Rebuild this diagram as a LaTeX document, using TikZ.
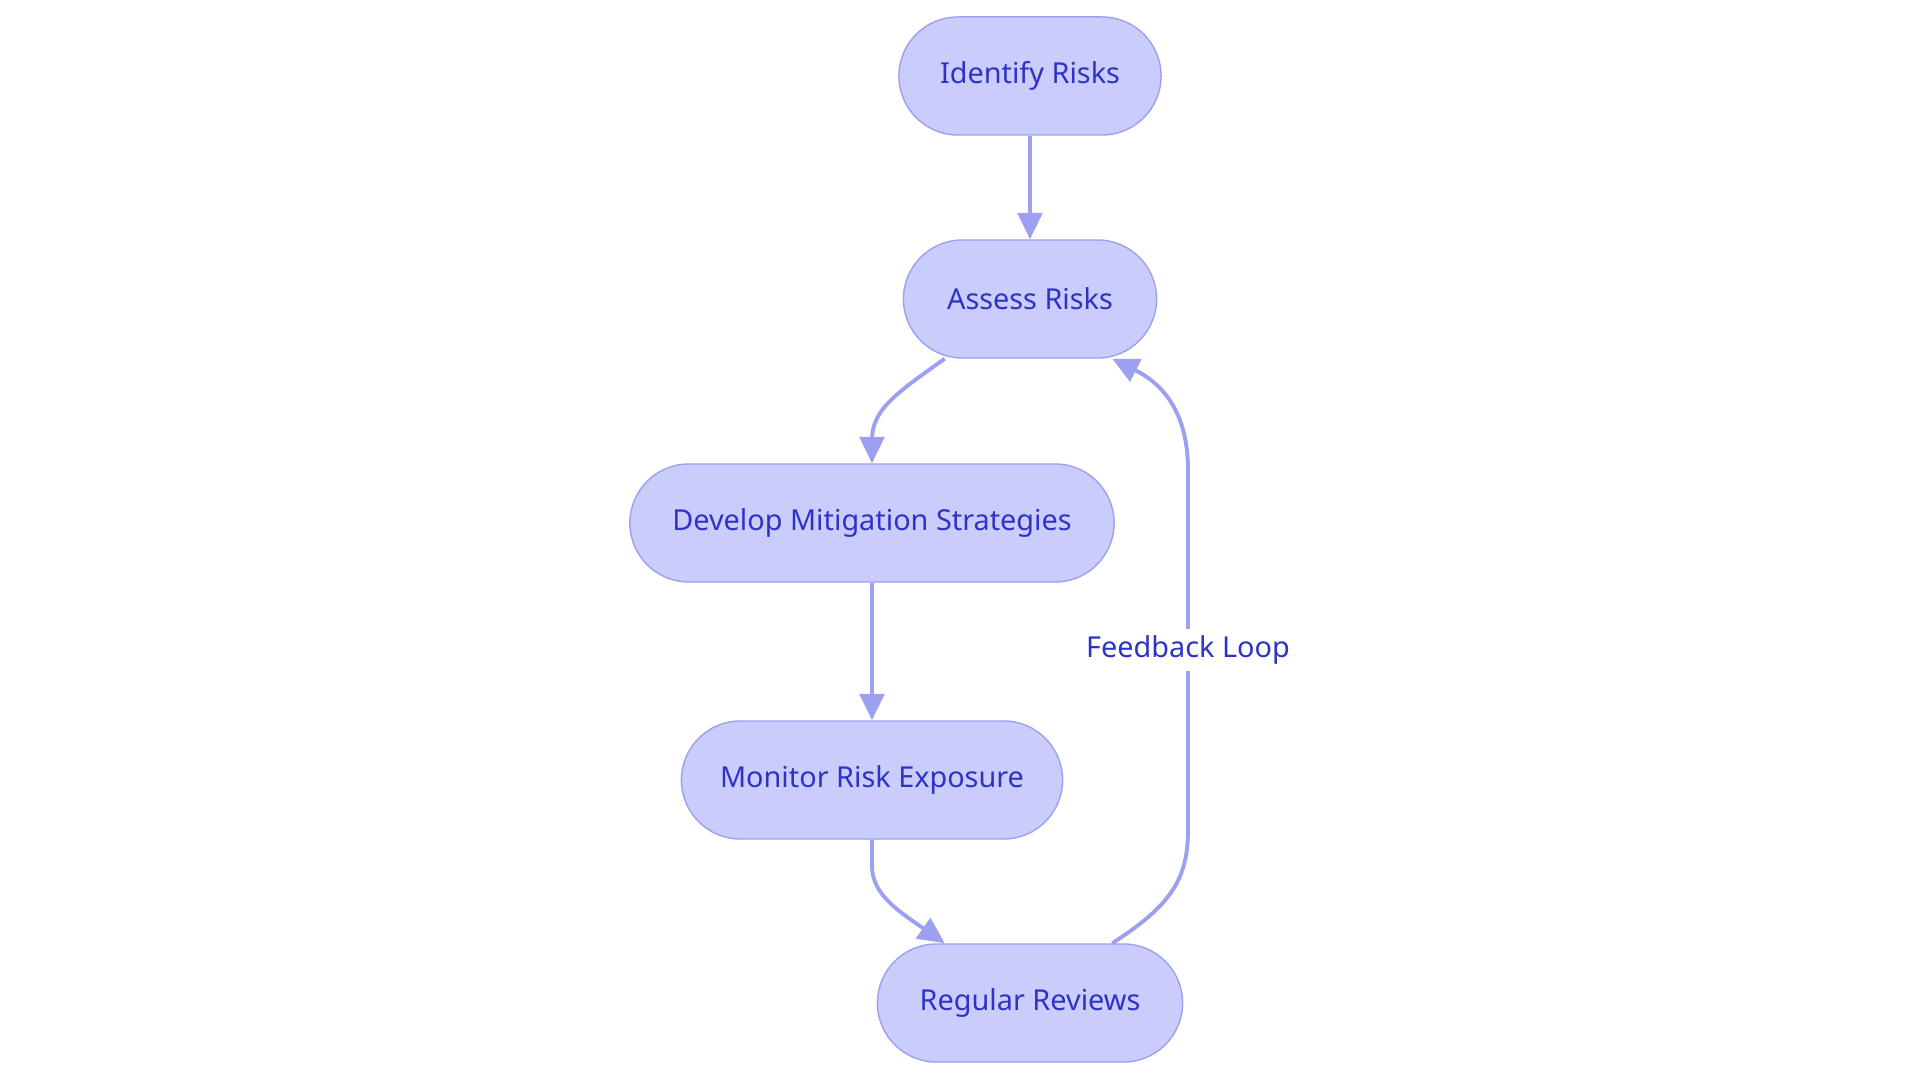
\documentclass[tikz,border=0pt]{standalone}
\usepackage{fontspec}
\setmainfont{Noto Sans}
\usetikzlibrary{arrows.meta}
\definecolor{boxfill}{HTML}{CACCFC}
\definecolor{boxline}{HTML}{9DA0F0}
\definecolor{boxtext}{HTML}{2E33C8}

\begin{document}
\begin{tikzpicture}[x=0.01cm, y=-0.01cm,
  >={Triangle[length=7.5pt, width=7pt]},
  stage/.style={draw=boxline, fill=boxfill, line width=0.4pt, rounded corners=0.59cm,
    minimum height=1.18cm, inner sep=0pt, text=boxtext, font=\fontsize{8.2}{10}\selectfont},
  flow/.style={->, draw=boxline, line width=1.1pt},
  looplabel/.style={fill=white, inner sep=2pt, text=boxtext, font=\fontsize{8.2}{10}\selectfont}]
  \useasboundingbox (0,0) rectangle (1920,1083);

  % Stages of the process
  \node[stage, minimum width=2.62cm] (identify) at (1030,76) {Identify Risks};
  \node[stage, minimum width=2.53cm] (assess) at (1030,299) {Assess Risks};
  \node[stage, minimum width=4.84cm] (develop) at (872,523) {Develop Mitigation Strategies};
  \node[stage, minimum width=3.81cm] (monitor) at (872,780) {Monitor Risk Exposure};
  \node[stage, minimum width=3.05cm] (reviews) at (1030,1003) {Regular Reviews};

  % Arrows
  \draw[flow] (identify) -- (assess);
  \draw[flow] (assess.215) .. controls (895,394) and (872,410) .. (872,440) -- (develop.north);
  \draw[flow] (develop) -- (monitor);
  \draw[flow] (monitor.south) -- (872,866) .. controls (872,895) and (900,912) .. (reviews.145);

  % Feedback loop back to assessment
  \draw[flow] (reviews.36) .. controls (1170,906) and (1188,880) .. (1188,830)
    -- node[looplabel] (loop) {Feedback Loop} (1188,470)
    .. controls (1188,415) and (1165,385) .. (assess.324);
\end{tikzpicture}
\end{document}
